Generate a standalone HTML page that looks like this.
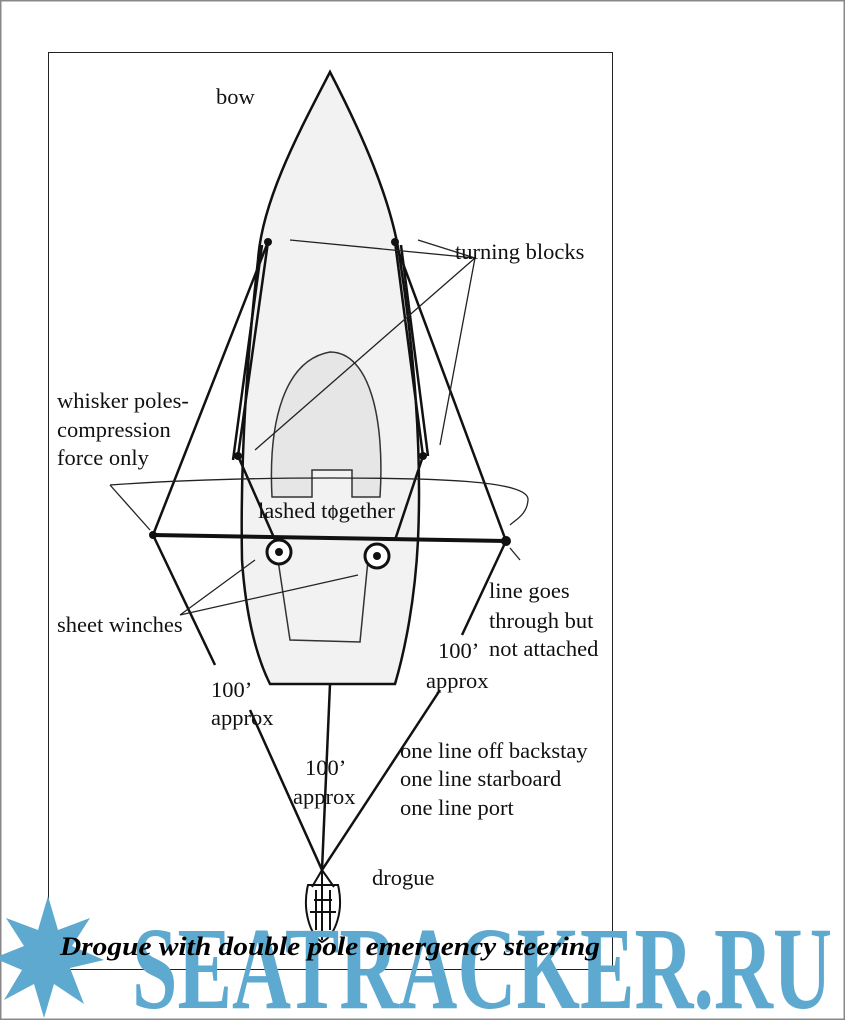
<!DOCTYPE html>
<html><head><meta charset="utf-8"><style>
html,body{margin:0;padding:0;background:#fff;}
svg{display:block}
</style></head><body>
<svg width="845" height="1020" viewBox="0 0 845 1020" xmlns="http://www.w3.org/2000/svg" font-family="Liberation Serif, serif">
<rect x="0.5" y="0.5" width="844" height="1019" fill="#fff" stroke="#888" stroke-width="2"/>
<rect x="48.5" y="52.5" width="564" height="917" fill="#fff" stroke="#222" stroke-width="1"/>
<path d="M330,72 C300,130 262,200 258,260 C248,350 240,450 242,560 C246,620 258,660 270,684 L395,684 C405,650 415,600 418,540 C422,450 414,350 400,260 C392,200 360,130 330,72Z" fill="#f2f2f2" stroke="#111" stroke-width="2.5"/>
<path d="M272,497 C268,420 285,360 330,352 C370,352 385,420 380,497 L352,497 L352,470 L312,470 L312,497Z" fill="#e6e6e6" stroke="#333" stroke-width="1.5"/>
<path d="M278,560 L290,640 L360,642 L368,560" fill="none" stroke="#333" stroke-width="1.5"/>
<g stroke="#111" stroke-width="2.5" fill="none">
<path d="M268,242 L153,535 L215,665"/>
<path d="M268,242 L238,456 L275,540"/>
<path d="M262,245 L233,460"/>
<path d="M395,242 L506,541 L462,635"/>
<path d="M395,242 L423,456 L395,540"/>
<path d="M401,245 L428,456"/>
<path d="M330,684 L322,870"/>
<path d="M250,710 L322,870 L440,690"/>
<path d="M153,535 L506,541" stroke-width="4"/>
</g>
<circle cx="153" cy="535" r="4" fill="#111"/><circle cx="506" cy="541" r="5" fill="#111"/>
<circle cx="268" cy="242" r="4" fill="#111"/><circle cx="395" cy="242" r="4" fill="#111"/>
<circle cx="238" cy="456" r="4" fill="#111"/><circle cx="423" cy="456" r="4" fill="#111"/>
<g stroke="#111" stroke-width="3" fill="#fff"><circle cx="279" cy="552" r="12"/><circle cx="377" cy="556" r="12"/></g>
<circle cx="279" cy="552" r="4" fill="#111"/><circle cx="377" cy="556" r="4" fill="#111"/>
<g stroke="#222" stroke-width="1.3" fill="none">
<path d="M475,258 L290,240 M475,258 L418,240 M475,258 L255,450 M475,258 L440,445"/>
<path d="M110,485 C180,480 250,478 330,478 C430,478 530,480 528,500 C527,515 515,520 510,525"/>
<path d="M110,485 L150,530"/>
<path d="M180,615 L255,560 M180,615 L358,575"/>
<path d="M520,560 L510,548"/>
<path d="M333,505 L333,520"/>
</g>
<g stroke="#111" stroke-width="2" fill="none">
<path d="M308,885 C302,910 310,935 322,942 C336,935 344,910 338,885 Z"/>
<path d="M312,887 L322,870 L334,887 M322,870 L322,940 M314,900 L332,900 M310,912 L336,912 M316,890 L316,930 M330,890 L330,930"/>
</g>
<g font-size="22.5" fill="#111">
<text x="216" y="104">bow</text>
<text x="455" y="259">turning blocks</text>
<text x="57" y="408">whisker poles-</text>
<text x="57" y="437">compression</text>
<text x="57" y="465">force only</text>
<text x="258" y="518">lashed together</text>
<text x="57" y="632">sheet winches</text>
<text x="489" y="598">line goes</text>
<text x="489" y="628">through but</text>
<text x="489" y="656">not attached</text>
<text x="438" y="658">100’</text>
<text x="426" y="688">approx</text>
<text x="211" y="697">100’</text>
<text x="211" y="725">approx</text>
<text x="305" y="775">100’</text>
<text x="293" y="804">approx</text>
<text x="400" y="758">one line off backstay</text>
<text x="400" y="786">one line starboard</text>
<text x="400" y="815">one line port</text>
<text x="372" y="885">drogue</text>
</g>
<g fill="#5ea9cf">
<polygon points="48,896 58,930 90,918 72,946 104,960 70,968 84,1004 54,984 44,1018 34,984 4,1000 22,970 -6,958 24,946 6,918 38,930"/>
<text x="132" y="1008" font-size="118" font-weight="bold" textLength="700" lengthAdjust="spacingAndGlyphs">SEATRACKER.RU</text>
</g>
<text x="60" y="955" font-size="26" font-weight="bold" font-style="italic" fill="#000" textLength="540" lengthAdjust="spacingAndGlyphs">Drogue with double pole emergency steering</text>
</svg>
</body></html>
